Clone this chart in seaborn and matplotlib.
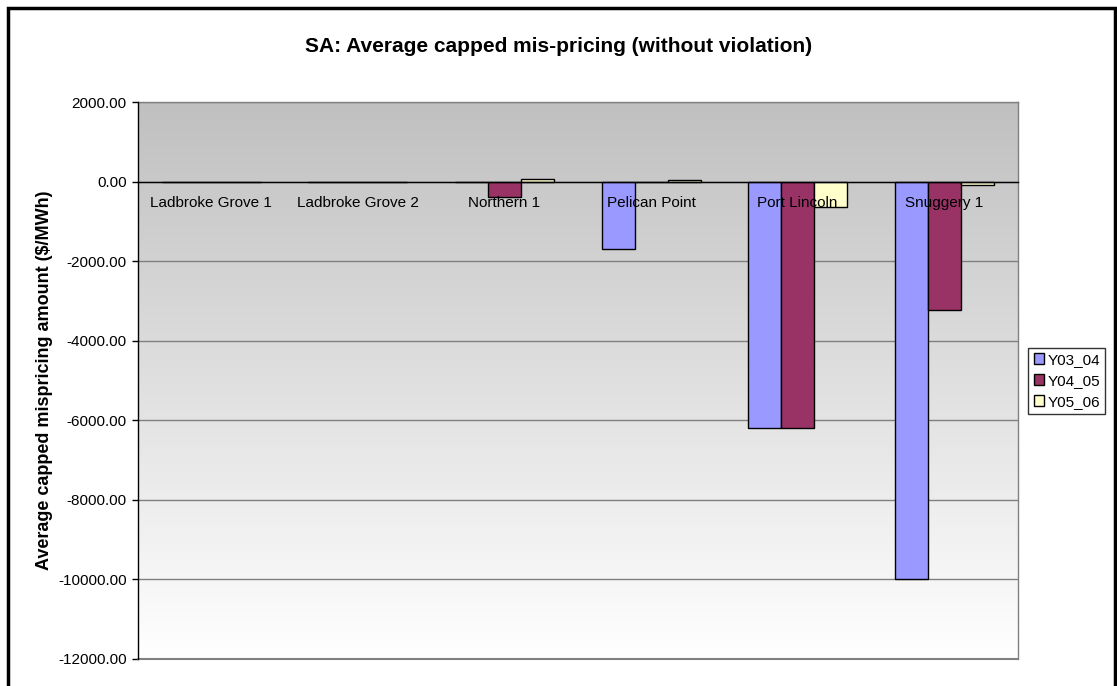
import numpy as np
import pandas as pd
import matplotlib
matplotlib.use('Agg')
import matplotlib.pyplot as plt
import matplotlib.transforms as mtransforms
from matplotlib.colors import LinearSegmentedColormap
from matplotlib.patches import Patch, Rectangle
import seaborn as sns

# data ($/MWh)
categories = ['Ladbroke Grove 1', 'Ladbroke Grove 2', 'Northern 1',
              'Pelican Point', 'Port Lincoln', 'Snuggery 1']
series = ['Y03_04', 'Y04_05', 'Y05_06']
y03_04 = [0, 0, 0, -1680, -6200, -9980]
y04_05 = [0, 0, -390, 0, -6200, -3220]
y05_06 = [0, 0, 70, 40, -620, -70]
colors = ['#9999FF', '#993366', '#FFFFCC']
yticks = list(range(-12000, 2001, 2000))

df = pd.DataFrame({'category': categories * 3,
                   'series': np.repeat(series, len(categories)),
                   'value': y03_04 + y04_05 + y05_06})

sns.set_style('white')
plt.rcParams['font.family'] = ['Liberation Sans', 'DejaVu Sans']
plt.rcParams.update({'text.color': 'black', 'axes.labelcolor': 'black',
                     'xtick.color': 'black', 'ytick.color': 'black'})

fig = plt.figure(figsize=(11.17, 6.86), dpi=100)
ax = fig.add_axes([0.1235, 0.0394, 0.7875, 0.8112])

# gradient background of plot area (grey at top -> white at bottom)
cmap = LinearSegmentedColormap.from_list('bg', ['#ffffff', '#c0c0c0'])
grad = np.linspace(0, 1, 256).reshape(-1, 1)
ax.imshow(grad, cmap=cmap, aspect='auto', origin='lower',
          extent=[-0.5, len(categories) - 0.5, -12000, 2000], zorder=0)

sns.barplot(data=df, x='category', y='value', hue='series', order=categories,
            hue_order=series, palette=colors, width=0.675, edgecolor='black',
            linewidth=1, saturation=1, legend=False, ax=ax, zorder=2)

ax.set_xlim(-0.5, len(categories) - 0.5)
ax.set_ylim(-12000, 2000)
ax.set_yticks(yticks)
ax.set_yticklabels([f'{v:.2f}' for v in yticks], fontsize=11)
ax.set_axisbelow(True)
ax.grid(axis='y', color='#808080', linewidth=1)
ax.grid(axis='x', visible=False)
ax.axhline(-12000, color='#808080', linewidth=1.5, clip_on=False, zorder=1)

# x axis at zero, ticks at category boundaries
ax.spines['bottom'].set_position(('data', 0))
ax.spines['bottom'].set_color('black')
ax.spines['bottom'].set_zorder(3)
ax.spines['left'].set_color('black')
ax.spines['left'].set_zorder(3)
ax.spines['top'].set_color('#808080')
ax.spines['right'].set_color('#808080')
for s in ax.spines.values():
    s.set_linewidth(1)
ax.set_xticks(np.arange(-0.5, len(categories)), labels=[])
ax.tick_params(axis='x', direction='out', length=4, color='black', width=1)
ax.tick_params(axis='y', direction='out', length=4, color='black', width=1, pad=4, left=True)
ax.set_xlabel('')
ax.set_ylabel('Average capped mispricing amount ($/MWh)', fontsize=13, fontweight='bold')
ax.yaxis.set_label_coords(-0.097, 0.5)

# category labels just under the zero line, above the bars
off = mtransforms.offset_copy(ax.transData, fig=fig, y=-21, units='dots')
for i, c in enumerate(categories):
    ax.text(i, 0, c, transform=off, ha='center', va='center', fontsize=11, zorder=5)

fig.text(0.5, 1 - 47 / 686, 'SA: Average capped mis-pricing (without violation)',
         ha='center', va='center', fontsize=15, fontweight='bold')

handles = [Patch(facecolor=c, edgecolor='black', linewidth=1) for c in colors]
leg = fig.legend(handles, series, loc='center', bbox_to_anchor=(0.955, 0.445),
                 fontsize=11, frameon=True, fancybox=False, shadow=False,
                 handlelength=0.7, handleheight=0.7, handletextpad=0.2,
                 labelspacing=0.45, borderpad=0.35)
leg.get_frame().set_edgecolor('black')
leg.get_frame().set_linewidth(1)

# outer chart border (bottom edge runs off the picture)
fig.patches.append(Rectangle((8 / 1117, -0.05), 1107 / 1117, 1.05 - 8 / 686,
                             transform=fig.transFigure, fill=False,
                             edgecolor='black', linewidth=2.5))

fig.savefig('out.png', dpi=100, facecolor='white')
